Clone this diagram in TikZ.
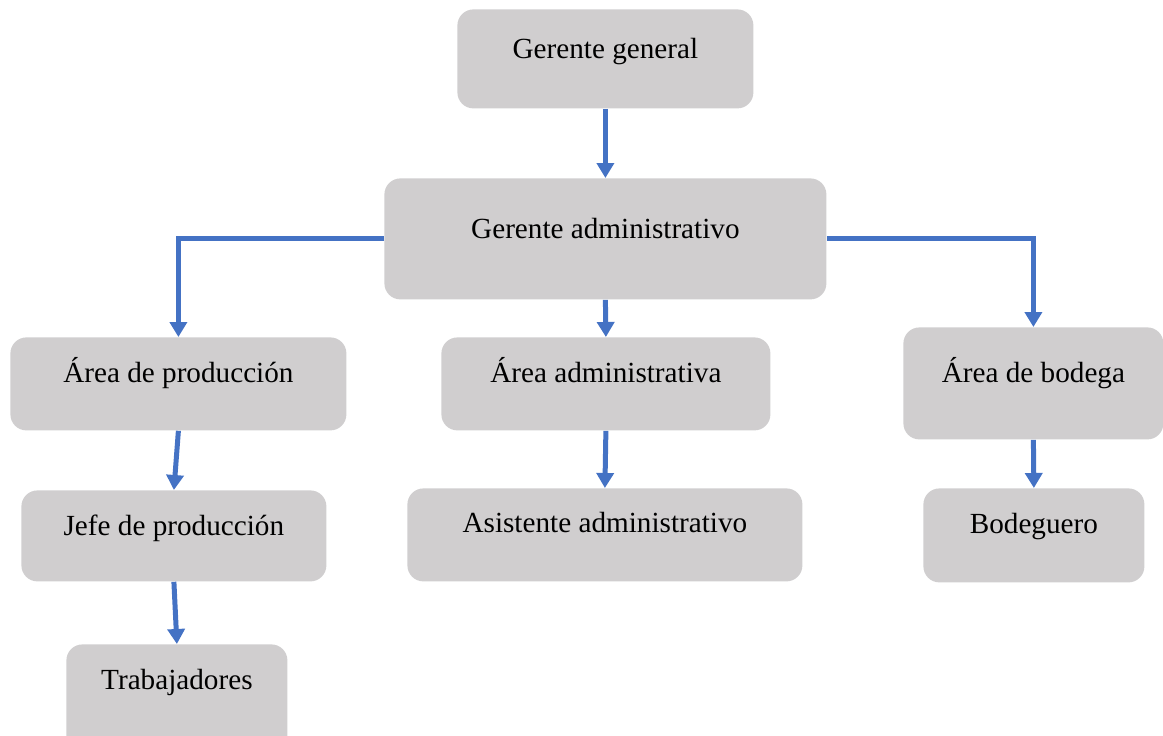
\documentclass[tikz,border=0pt]{standalone}
\usepackage{fontspec}
\setmainfont{Liberation Serif}
\usetikzlibrary{arrows.meta}
\definecolor{boxgray}{HTML}{D0CECF}
\definecolor{linkblue}{HTML}{4472C4}
\tikzset{
  orgbox/.style={fill=boxgray, rounded corners=8pt, inner sep=0pt, anchor=north west,
    font=\fontsize{14.6}{17}\selectfont, align=center},
  link/.style={draw=linkblue, line width=2.5pt,
    -{Triangle[width=8.5pt,length=7.5pt]}}
}
\begin{document}
\begin{tikzpicture}[x=0.5pt,y=-0.5pt]
\useasboundingbox (0,0) rectangle (1163,735);

% top levels
\node[orgbox, minimum width=148pt, text height=24.5pt, text depth=25pt] (gg) at (457,9) {Gerente general};
\node[orgbox, minimum width=221pt, text height=30pt, text depth=30.5pt] (ga) at (384,178) {Gerente administrativo};

% areas
\node[orgbox, minimum width=168pt, text height=22.5pt, text depth=24pt] (ap) at (10,337) {Área de producción};
\node[orgbox, minimum width=164.5pt, text height=22.5pt, text depth=24pt] (aa) at (441,337) {Área administrativa};
\node[orgbox, minimum width=130pt, text height=27.5pt, text depth=28.5pt] (ab) at (903,327) {Área de bodega};

% staff
\node[orgbox, minimum width=152.5pt, text height=22.5pt, text depth=23pt] (jp) at (21,490) {Jefe de producción};
\node[orgbox, minimum width=197.5pt, text height=22pt, text depth=24.5pt] (as) at (407,488) {Asistente administrativo};
\node[orgbox, minimum width=110.5pt, text height=22.5pt, text depth=24.5pt] (bo) at (923,488) {Bodeguero};
\node[orgbox, minimum width=110.5pt, text height=22.5pt, text depth=32pt] (tr) at (66,644) {Trabajadores};

% connectors
\draw[link] (gg.south) -- (ga.north);
\draw[link] (ga.south) -- (aa.north);
\draw[link] (ga.base west) -| (ap.north);
\draw[link] (ga.base east) -| (ab.north);
\draw[link] (ap.south) -- (jp.north);
\draw[link] (jp.south) -- (tr.north);
\draw[link] (aa.south) -- (as.north);
\draw[link] (ab.south) -- (bo.north);
\end{tikzpicture}
\end{document}
